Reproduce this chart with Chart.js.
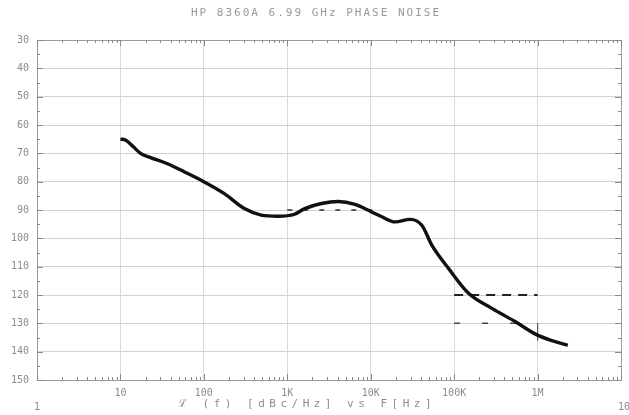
<!DOCTYPE html>
<html>
<head>
<meta charset="utf-8">
<script src="https://cdn.jsdelivr.net/npm/chart.js@4"></script>
<style>
  html, body { margin: 0; padding: 0; background: #fff; }
  #wrap { width: 629px; height: 415px; }
</style>
</head>
<body>
<div id="wrap"><canvas id="noiseChart" width="629" height="415"></canvas></div>
<script>
// offset frequency [Hz] and phase noise [dBc/Hz]
const freqs = [10, 11.5, 14.3, 17.4, 23, 36, 58, 100, 176, 306, 486, 772, 1220, 1620, 2570, 4080, 6470, 10000, 13600, 19600, 29800, 41000, 54000, 86000, 150000, 287000, 548000, 955000, 1520000, 2300000];
const noise = [-65, -65.3, -67.7, -70, -71.5, -73.6, -76.5, -80, -84.2, -89.5, -91.8, -92.2, -91.5, -89.5, -87.7, -87, -88, -90.5, -92.4, -94.2, -93.3, -95.4, -102.4, -110.7, -119.5, -124.8, -129.5, -133.9, -136.2, -137.8];

// spec limit marks
const specA = [[1000, -90], [12000, -90]];
const specB = [[100000, -120], [1000000, -120]];
const specC = [[100000, -130], [1000000, -130]];
const specD = [[1000000, -130], [1000000, -136]];

const decades = [1, 10, 100, 1000, 10000, 100000, 1000000, 10000000];
const decadeLabels = ['1', '10', '100', '1K', '10K', '100K', '1M', '10M'];
const titleText = 'HP 8360A 6.99 GHz PHASE NOISE';
const axisText = 'ℒ (f) [dBc/Hz] vs F[Hz]';

const font = '"DejaVu Sans Mono", monospace';
const grey = '#8c8c8c';

const toPts = arr => arr.map(p => ({ x: p[0], y: p[1] }));

const plotterMarks = {
    id: 'plotterMarks',
    afterDraw(chart) {
        const { ctx, chartArea: a, scales: { x, y } } = chart;
        ctx.save();
        // frame
        ctx.strokeStyle = '#9a9a9a';
        ctx.lineWidth = 1;
        ctx.strokeRect(a.left + 0.5, a.top + 0.5, a.right - a.left, a.bottom - a.top);
        // minor ticks on x (2..9 per decade)
        ctx.strokeStyle = '#888';
        for (let d = 1; d < 1e7; d *= 10) {
            for (let m = 1; m <= 10; m++) {
                const px = Math.round(x.getPixelForValue(d * m)) + 0.5;
                const len = (m === 1 || m === 10) ? 6 : 3;
                ctx.beginPath();
                ctx.moveTo(px, a.bottom); ctx.lineTo(px, a.bottom - len);
                ctx.moveTo(px, a.top); ctx.lineTo(px, a.top + len);
                ctx.stroke();
            }
        }
        // minor ticks on y every 5 dB
        for (let v = -150; v <= -30; v += 5) {
            const py = Math.round(y.getPixelForValue(v)) + 0.5;
            const len = v % 10 === 0 ? 6 : 3;
            ctx.beginPath();
            ctx.moveTo(a.left, py); ctx.lineTo(a.left + len, py);
            ctx.moveTo(a.right, py); ctx.lineTo(a.right - len, py);
            ctx.stroke();
        }
        // end labels sit lower
        ctx.fillStyle = grey;
        ctx.font = '10px ' + font;
        ctx.textAlign = 'center';
        ctx.textBaseline = 'middle';
        ctx.fillText('1', x.getPixelForValue(1), 407);
        ctx.fillText('10M', x.getPixelForValue(1e7) + 6, 407);
        // title and axis caption, spaced out like plotter lettering
        ctx.font = '11px ' + font;
        ctx.letterSpacing = '2px';
        ctx.fillStyle = '#999';
        ctx.fillText(titleText, 316, 13);
        ctx.letterSpacing = '4.5px';
        ctx.fillStyle = grey;
        ctx.fillText(axisText, 307, 404);
        ctx.restore();
    }
};

const ctx = document.getElementById('noiseChart').getContext('2d');
new Chart(ctx, {
    type: 'line',
    data: {
        datasets: [{
            data: freqs.map((f, i) => ({ x: f, y: noise[i] })),
            borderColor: '#111',
            borderWidth: 3.4,
            pointRadius: 0,
            tension: 0.4,
            cubicInterpolationMode: 'monotone'
        }, {
            data: toPts(specA),
            borderColor: '#333',
            borderWidth: 1.5,
            borderDash: [5, 11],
            pointRadius: 0
        }, {
            data: toPts(specB),
            borderColor: '#222',
            borderWidth: 2,
            borderDash: [9, 7],
            pointRadius: 0
        }, {
            data: toPts(specC),
            borderColor: '#444',
            borderWidth: 1.5,
            borderDash: [6, 22],
            pointRadius: 0
        }, {
            data: toPts(specD),
            borderColor: '#555',
            borderWidth: 1,
            pointRadius: 0
        }]
    },
    options: {
        responsive: false,
        animation: false,
        layout: { padding: { top: 40, right: 8, left: 0, bottom: 0 } },
        plugins: {
            legend: { display: false },
            tooltip: { enabled: false },
            title: { display: false }
        },
        scales: {
            x: {
                type: 'logarithmic',
                min: 1,
                max: 1e7,
                afterBuildTicks: scale => { scale.ticks = decades.map(v => ({ value: v })); },
                afterFit: scale => { scale.height = 35; },
                border: { display: false },
                grid: { color: '#dadada', drawTicks: false },
                ticks: {
                    autoSkip: false,
                    maxRotation: 0,
                    padding: 7,
                    color: grey,
                    font: { family: font, size: 10 },
                    callback: (v) => {
                        const i = decades.indexOf(v);
                        return (i <= 0 || i === decades.length - 1) ? '' : decadeLabels[i];
                    }
                }
            },
            y: {
                min: -150,
                max: -30,
                afterFit: scale => { scale.width = 37; },
                border: { display: false },
                grid: { color: '#d2d2d2', drawTicks: false },
                ticks: {
                    stepSize: 10,
                    padding: 8,
                    color: grey,
                    font: { family: font, size: 10 },
                    callback: v => Math.abs(v)
                }
            }
        }
    },
    plugins: [plotterMarks]
});
</script>
</body>
</html>
